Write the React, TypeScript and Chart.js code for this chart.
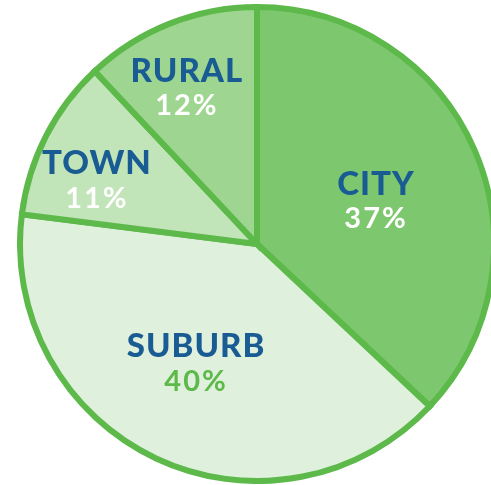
import React, { useEffect, useRef } from "react";
import { Chart, registerables } from "chart.js";

Chart.register(...registerables);

const categories = ["CITY", "SUBURB", "TOWN", "RURAL"];
const shares = [37, 40, 11, 12];
const sliceColors = ["#7dc86e", "#dff0dc", "#c1e4b9", "#9ed590"];
const percentColors = ["#ffffff", "#5cb94a", "#ffffff", "#ffffff"];
// label anchor offsets from the pie centre, as a fraction of the radius
const labelDX = [0.496, -0.254, -0.667, -0.292];
const labelDY = [-0.179, 0.498, -0.265, -0.65];

const labelPlugin = {
  id: "sliceLabels",
  afterDatasetsDraw(chart: any) {
    const { ctx } = chart;
    const meta = chart.getDatasetMeta(0);
    meta.data.forEach((arc: any, i: number) => {
      const { x, y, outerRadius } = arc.getProps(["x", "y", "outerRadius"], true);
      const R = outerRadius + 3;
      const cx = x + labelDX[i] * R;
      const cy = y + labelDY[i] * R;
      ctx.save();
      ctx.textAlign = "center";
      ctx.textBaseline = "middle";
      ctx.fillStyle = "#195b93";
      ctx.font = "900 33px Lato, 'DejaVu Sans', sans-serif";
      (ctx as any).letterSpacing = "1px";
      ctx.fillText(categories[i], cx, cy - 17);
      ctx.fillStyle = percentColors[i];
      ctx.font = "bold 29px Lato, 'DejaVu Sans', sans-serif";
      (ctx as any).letterSpacing = "2px";
      ctx.fillText(shares[i] + "%", cx, cy + 18);
      ctx.restore();
    });
  },
};

export default function App() {
  const ref = useRef<HTMLCanvasElement>(null);
  useEffect(() => {
    const chart = new Chart(ref.current!, {
      type: "pie",
      data: {
        labels: categories,
        datasets: [
          {
            data: shares,
            backgroundColor: sliceColors,
            borderColor: "#5cb94a",
            borderWidth: 6,
            borderJoinStyle: "miter" as any,
          },
        ],
      },
      options: {
        responsive: false,
        animation: false,
        plugins: {
          legend: { display: false },
          tooltip: { enabled: false },
        },
        layout: { padding: 0 },
      },
      plugins: [labelPlugin],
    });
    return () => chart.destroy();
  }, []);
  return (
    <div style={{ position: "fixed", left: 0, top: 0, width: 491, height: 485, overflow: "hidden", background: "#fff" }}>
      <canvas
        ref={ref}
        width={480}
        height={480}
        style={{ position: "absolute", left: 17, top: 4, width: 480, height: 480 }}
      />
    </div>
  );
}
